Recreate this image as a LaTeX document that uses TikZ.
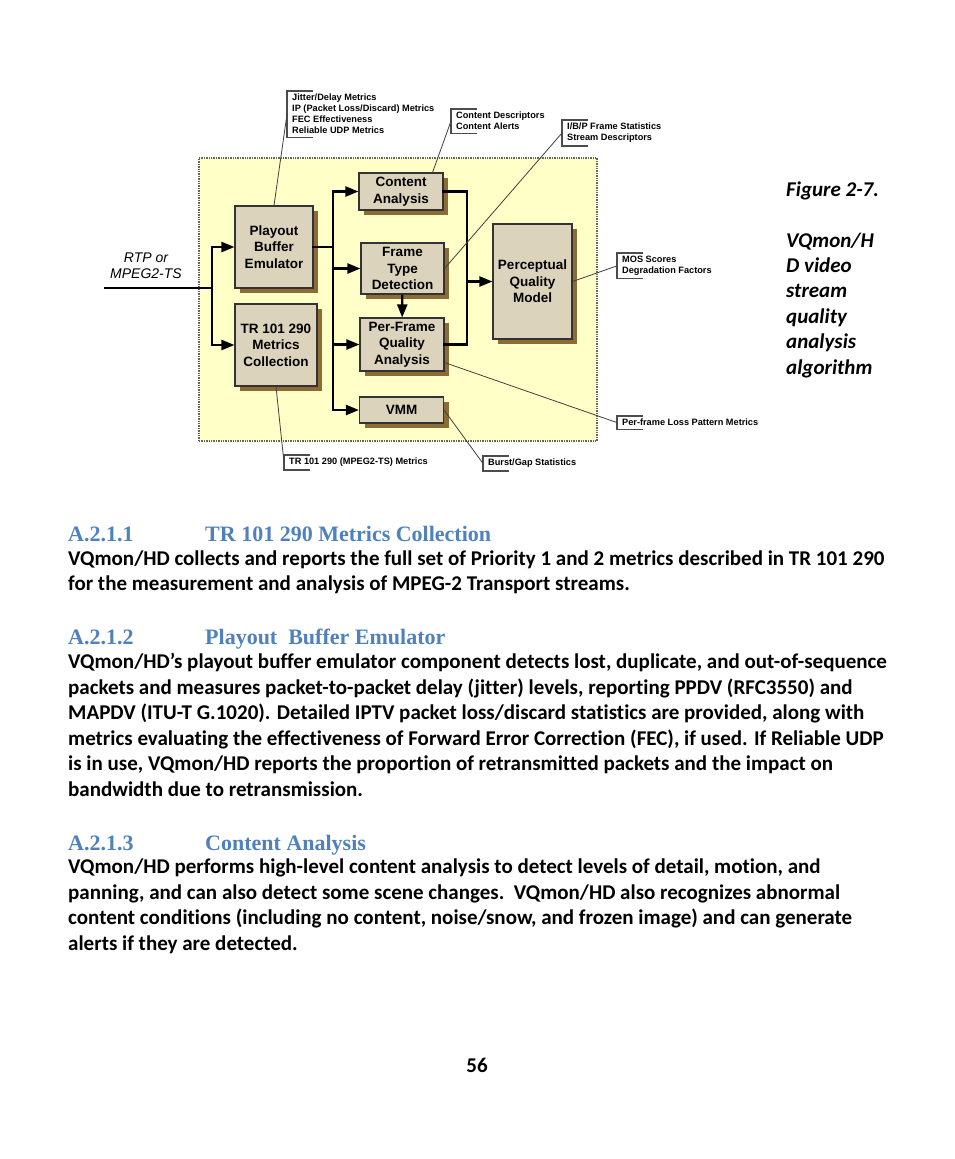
\documentclass[tikz,border=0pt]{standalone}
\usepackage{fontspec}
\setmainfont{Carlito}[Ligatures={NoCommon}]
\newfontfamily\arialfont{Liberation Sans}
\newfontfamily\headfont{Liberation Serif}
\usepackage{tikz}
\usetikzlibrary{arrows.meta,calc,positioning,shadows}
\definecolor{panelfill}{HTML}{FFFFC8}
\definecolor{boxfill}{HTML}{DCD3BC}
\definecolor{boxshade}{HTML}{8C6B35}
\definecolor{headblue}{HTML}{4F81BD}
\definecolor{leadgray}{HTML}{404040}
\tikzset{
  panel/.style={
    draw=black!60,
    densely dotted,
    line width=1.4pt,
    fill=panelfill,
    minimum width=398pt,
    minimum height=283pt,
    inner sep=0pt
  },
  stage/.style={
    draw=black!80,
    line width=1.1pt,
    fill=boxfill,
    general shadow={fill=boxshade, shadow xshift=5pt, shadow yshift=-5pt},
    align=center,
    font=\arialfont\bfseries\fontsize{13.5}{16.5}\selectfont,
    inner sep=0pt,
    minimum width=84pt
  },
  flow/.style={line width=2.2pt, draw=black, line cap=rect},
  flowarrow/.style={line width=2.2pt, draw=black, -{Triangle[length=13pt,width=10pt]}},
  leader/.style={line width=0.8pt, draw=leadgray},
  bracket/.style={line width=1.2pt, draw=black!70},
  calltext/.style={
    anchor=north west,
    font=\arialfont\bfseries\fontsize{9.2}{11}\selectfont,
    align=left,
    inner xsep=5pt,
    inner ysep=3pt
  },
  inlabel/.style={font=\arialfont\itshape\fontsize{14}{16}\selectfont, align=center},
  heading/.style={anchor=base west, inner sep=0pt, text=headblue, font=\headfont\bfseries\fontsize{22}{25}\selectfont},
  bodytext/.style={anchor=base west, inner sep=0pt, align=left, font=\bfseries\fontsize{21}{25.5}\selectfont},
  caption/.style={anchor=base west, inner sep=0pt, align=left, font=\bfseries\itshape\fontsize{21}{25.4}\selectfont}
}
\newcommand{\callbracket}[1]{%
  \draw[bracket] ([xshift=26pt]#1.north west) -- (#1.north west) -- (#1.south west) -- ([xshift=26pt]#1.south west);
}

\begin{document}
\begin{tikzpicture}[x=1pt,y=-1pt]
\useasboundingbox (0,0) rectangle (954,1159);
\fill[white] (0,0) rectangle (954,1159);

% block diagram
\node[panel] (core) at (398,299.5) {};

\node[stage, minimum width=78pt, minimum height=82pt] (pbe) at (274,247) {Playout\\Buffer\\Emulator};
\node[stage, minimum width=82pt, minimum height=82pt] (trm) at (276,345) {TR 101 290\\Metrics\\Collection};
\node[stage, minimum height=37pt] (cna) at (401,191.5) {Content\\Analysis};
\node[stage, minimum width=83pt, minimum height=51pt] (ftd) at (402.5,268.5) {Frame\\Type\\Detection};
\node[stage, minimum height=53pt] (pfq) at (402,344.5) {Per-Frame\\Quality\\Analysis};
\node[stage, minimum height=26pt] (vmm) at (401.5,410) {VMM};
\node[stage, minimum width=79pt, minimum height=115pt] (pqm) at (532.5,281.5) {Perceptual\\Quality\\Model};

\node[inlabel] (rtp) at (146,266) {RTP or\\MPEG2-TS};

\coordinate (src) at (105,288);
\coordinate (lsplit) at (212,288);
\coordinate (rsplit) at (333,247);
\coordinate (rjoin) at (467,281.5);

\draw[flow] (src) -- (lsplit);
\draw[flowarrow] (lsplit) |- (pbe);
\draw[flowarrow] (lsplit) |- (trm);
\draw[flow] (pbe) -- (rsplit);
\foreach \b in {cna,ftd,pfq,vmm}
  \draw[flowarrow] (rsplit) |- (\b);
\draw[flowarrow] (ftd) -- (pfq);
\draw[flow] (cna) -| (rjoin);
\draw[flow] (pfq) -| (rjoin);
\draw[flowarrow] (rjoin) -- (pqm);

% callouts
\node[calltext] (cjit) at (287,91) {Jitter/Delay Metrics\\IP (Packet Loss/Discard) Metrics\\FEC Effectiveness\\Reliable UDP Metrics};
\node[calltext] (ccon) at (451,109) {Content Descriptors\\Content Alerts};
\node[calltext] (cibp) at (562,120) {I/B/P Frame Statistics\\Stream Descriptors};
\node[calltext] (cmos) at (617,253) {MOS Scores\\Degradation Factors};
\node[calltext] (cpfl) at (617,416) {Per-frame Loss Pattern Metrics};
\node[calltext] (cbgs) at (483,456) {Burst/Gap Statistics};
\node[calltext] (ctrm) at (284,455) {TR 101 290 (MPEG2-TS) Metrics};
\foreach \c in {cjit,ccon,cibp,cmos,cpfl,cbgs,ctrm}{\callbracket{\c}}

\draw[leader] (pbe.north) -- (cjit.west);
\draw[leader] ([xshift=-11pt]cna.north east) -- (ccon.west);
\draw[leader] (ftd.east) -- (cibp.west);
\draw[leader] (pqm.east) -- (cmos.west);
\draw[leader] ([yshift=9pt]pfq.south east) -- (cpfl.west);
\draw[leader] (vmm.east) -- (cbgs.west);
\draw[leader] (trm.south) -- (ctrm.west);

% caption (base = last line)
\node[caption] (figcap) at (786,374) {Figure 2-7.\\[25.4pt]VQmon/H\\D video\\stream\\quality\\analysis\\algorithm};

% text below (base = last line)
\node[heading] (head1) at (68,541) {\makebox[137pt][l]{A.2.1.1}TR 101 290 Metrics Collection};
\node[bodytext] (para1) at (68,590.5) {VQmon/HD collects and reports the full set of Priority 1 and 2 metrics described in TR 101 290\\for the measurement and analysis of MPEG-2 Transport streams.};

\node[heading] (head2) at (68,644) {\makebox[137pt][l]{A.2.1.2}Playout\ \ Buffer Emulator};
\node[bodytext] (para2) at (68,796) {VQmon/HD’s playout buffer emulator component detects lost, duplicate, and out-of-sequence\\packets and measures packet-to-packet delay (jitter) levels, reporting PPDV (RFC3550) and\\MAPDV (ITU-T G.1020). Detailed IPTV packet loss/discard statistics are provided, along with\\metrics evaluating the effectiveness of Forward Error Correction (FEC), if used. If Reliable UDP\\is in use, VQmon/HD reports the proportion of retransmitted packets and the impact on\\bandwidth due to retransmission.};

\node[heading] (head3) at (68,850) {\makebox[137pt][l]{A.2.1.3}Content Analysis};
\node[bodytext] (para3) at (68,950) {VQmon/HD performs high-level content analysis to detect levels of detail, motion, and\\panning, and can also detect some scene changes.\ \ VQmon/HD also recognizes abnormal\\content conditions (including no content, noise/snow, and frozen image) and can generate\\alerts if they are detected.};

\node[bodytext, anchor=base] (pagenum) at (477,1072) {56};
\end{tikzpicture}
\end{document}
